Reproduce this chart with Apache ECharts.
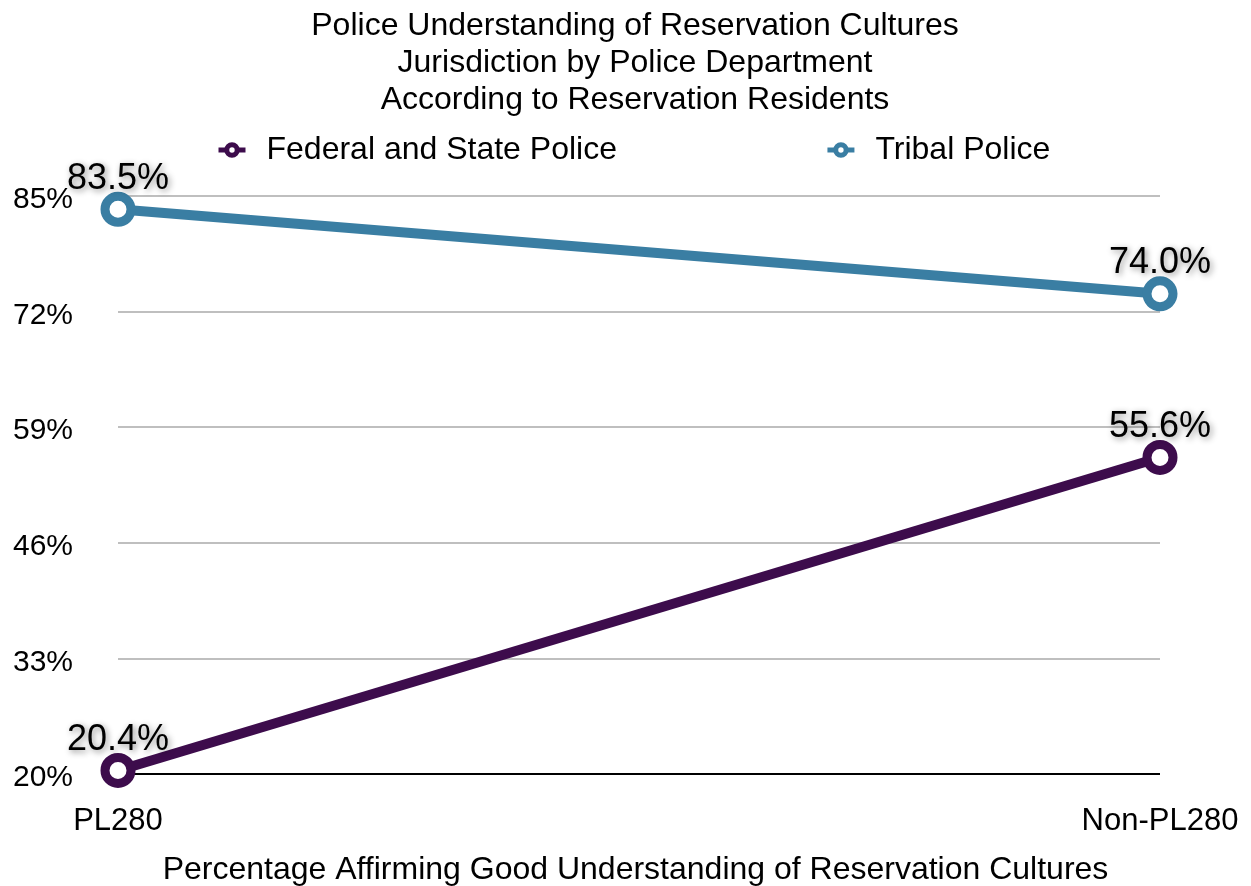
<!DOCTYPE html>
<html>
<head>
<meta charset="utf-8">
<script src="https://cdn.jsdelivr.net/npm/echarts@6/dist/echarts.min.js"></script>
<style>
html,body{margin:0;padding:0;background:#fff;}
#chart{width:1251px;height:886px;}
</style>
</head>
<body>
<div id="chart"></div>
<script>
const titleLines = ['Police Understanding of Reservation Cultures', 'Jurisdiction by Police Department', 'According to Reservation Residents'];
const categories = ['PL280', 'Non-PL280'];
const seriesNames = ['Federal and State Police', 'Tribal Police'];
const federalStateValues = [20.4, 55.6];
const tribalValues = [83.5, 74.0];
const yTicks = [20, 33, 46, 59, 72, 85];
const xAxisTitle = 'Percentage Affirming Good Understanding of Reservation Cultures';
const colors = ['#3d0c4c', '#3a7ea3'];

const font = 'Liberation Sans, Arial, sans-serif';
const chart = echarts.init(document.getElementById('chart'), null, {renderer: 'canvas'});

function makeSeries(name, data, color) {
  return {
    name: name,
    type: 'line',
    data: data,
    symbol: 'circle',
    symbolSize: 26,
    showAllSymbol: true,
    lineStyle: {color: color, width: 10},
    itemStyle: {color: '#fff', borderColor: color, borderWidth: 9},
    emphasis: {disabled: true},
    label: {
      show: true,
      position: 'top',
      distance: -5,
      color: '#000',
      fontSize: 36,
      fontFamily: font,
      textShadowColor: 'rgba(0,0,0,0.45)',
      textShadowBlur: 6,
      textShadowOffsetX: 2,
      textShadowOffsetY: 2,
      formatter: p => p.value.toFixed(1) + '%'
    },
    z: 3
  };
}

chart.setOption({
  animation: false,
  backgroundColor: '#fff',
  title: {
    text: titleLines.join('\n'),
    left: 635,
    textAlign: 'center',
    top: 8,
    padding: 0,
    textStyle: {fontFamily: font, fontSize: 32, fontWeight: 'normal', color: '#000', lineHeight: 37}
  },
  legend: {
    data: seriesNames,
    left: 216,
    top: 134,
    padding: 0,
    itemGap: 208,
    itemWidth: 27,
    itemHeight: 13,
    itemStyle: {borderWidth: 5},
    textStyle: {fontFamily: font, fontSize: 32, color: '#000', padding: [0, 0, 0, 16]},
    lineStyle: {width: 5}
  },
  grid: {left: 118, right: 91, top: 196, bottom: 112, containLabel: false, outerBoundsMode: 'none'},
  xAxis: {
    type: 'category',
    data: categories,
    boundaryGap: false,
    axisLine: {show: false},
    axisTick: {show: false},
    axisLabel: {fontFamily: font, fontSize: 31, color: '#000', margin: 32},
    name: xAxisTitle,
    nameLocation: 'middle',
    nameGap: 80,
    nameTextStyle: {fontFamily: font, fontSize: 32, color: '#000', padding: [0, 7, 0, 0]}
  },
  yAxis: {
    type: 'value',
    min: yTicks[0],
    max: yTicks[yTicks.length - 1],
    interval: yTicks[1] - yTicks[0],
    axisLine: {show: false},
    axisTick: {show: false},
    axisLabel: {
      fontFamily: font, fontSize: 30, color: '#000', margin: 45,
      verticalAlign: 'top',
      lineHeight: 8,
      formatter: v => v + '%'
    },
    splitLine: {
      lineStyle: {
        color: yTicks.map((t, i) => i === 0 ? '#000' : '#bfbfbf'),
        width: 2
      }
    }
  },
  series: [
    makeSeries(seriesNames[0], federalStateValues, colors[0]),
    makeSeries(seriesNames[1], tribalValues, colors[1])
  ]
});
</script>
</body>
</html>
